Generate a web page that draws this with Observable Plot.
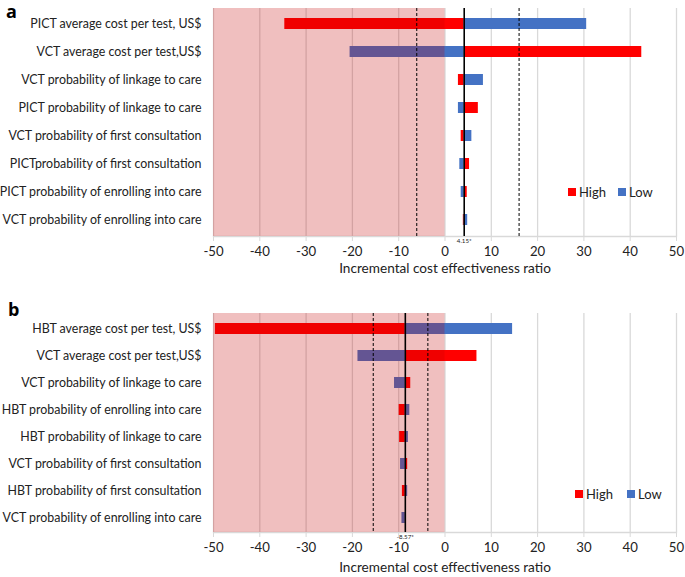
<!DOCTYPE html>
<html>
<head>
<meta charset="utf-8">
<script src="https://cdn.jsdelivr.net/npm/d3@7"></script>
<script src="https://cdn.jsdelivr.net/npm/@observablehq/plot@0.6"></script>
<style>
  body { margin: 0; background: #fff; }
  #wrap { position: relative; width: 685px; height: 577px; font-family: Lato, sans-serif; }
  .panel { position: relative; width: 685px; }
  .plabel { position: absolute; font-weight: bold; font-size: 18px; line-height: 1; color: #000; font-family: "Open Sans", sans-serif; }
  .legend { position: absolute; font-size: 13px; color: #222; display: flex; align-items: center; }
  .sw { display: inline-block; width: 8px; height: 8px; margin-right: 3px; }
</style>
</head>
<body>
<div id="wrap"></div>
<script>
// ---------- data ----------
const xTicks = [-50, -40, -30, -20, -10, 0, 10, 20, 30, 40, 50];
const pinkRange = [-50, 0];
const axisTitle = "Incremental cost effectiveness ratio";

const labelsA = [
  "PICT average cost per test, US$",
  "VCT average cost per test,US$",
  "VCT probability of linkage to care",
  "PICT probability of linkage to care",
  "VCT probability of first consultation",
  "PICTprobability of first consultation",
  "PICT probability of enrolling into care",
  "VCT probability of enrolling into care"
];
const highA = [-34.6, 42.5, 2.9, 7.2, 3.5, 5.3, 4.8, 3.96];
const lowA  = [30.6, -20.5, 8.3, 2.9, 5.8, 3.2, 3.5, 4.9];
const baseA = 4.15;
const dashedA = [-6.1, 16.0];
const noteA = "4.15*";

const labelsB = [
  "HBT average cost per test, US$",
  "VCT average cost per test,US$",
  "VCT probability of linkage to care",
  "HBT probability of enrolling into care",
  "HBT probability of linkage to care",
  "VCT probability of first consultation",
  "HBT probability of first consultation",
  "VCT probability of enrolling into care"
];
const highB = [-49.6, 6.9, -7.4, -9.9, -9.8, -8.06, -9.2, -8.45];
const lowB  = [14.6, -18.8, -10.9, -7.6, -7.9, -9.6, -8.06, -9.3];
const baseB = -8.57;
const dashedB = [-15.5, -3.7];
const noteB = "-8.57*";

const legendItems = [
  {name: "High", color: "#ff0000"},
  {name: "Low", color: "#4472c4"}
];

// ---------- chart ----------
function panel({labels, high, low, base, dashed, note, height, marginTop, marginBottom, titleDy}) {
  const rows = labels.map((l, i) => ({label: l, high: high[i], low: low[i]}));
  return Plot.plot({
    width: 685,
    height,
    marginLeft: 213,
    marginRight: 9,
    marginTop,
    marginBottom,
    style: {fontFamily: "Lato, sans-serif", color: "#222", background: "#fff"},
    x: {domain: [-50, 50]},
    y: {domain: labels, paddingInner: 0.6, paddingOuter: 0.3},
    marks: [
      Plot.ruleX(xTicks, {stroke: "#d9d9d9", strokeWidth: 1.3}),
      Plot.axisX({ticks: xTicks, tickFormat: d => String(d), tickSize: 5, tickPadding: 5, fontSize: 13.2, label: null, stroke: "#d9d9d9"}),
      Plot.axisY({tickSize: 0, tickPadding: 12, fontSize: 12.4, label: null}),
      Plot.frame({anchor: "bottom", stroke: "#d9d9d9", strokeWidth: 1.3}),
      Plot.barX(rows, {y: "label", x1: base, x2: "high", fill: "#ff0000"}),
      Plot.barX(rows, {y: "label", x1: base, x2: "low", fill: "#4472c4"}),
      Plot.rect([{x1: pinkRange[0], x2: pinkRange[1]}], {x1: "x1", x2: "x2", fill: "rgb(195,0,0)", fillOpacity: 0.25}),
      Plot.ruleX([base], {stroke: "#000", strokeWidth: 1.6}),
      Plot.ruleX(dashed, {stroke: "#000", strokeWidth: 1, strokeDasharray: "3,2"}),
      Plot.text([note], {x: base, frameAnchor: "bottom", dy: 6, fontSize: 6.2, fill: "#222"}),
      Plot.text([axisTitle], {frameAnchor: "bottom", dy: titleDy, fontSize: 13.6, fill: "#222"})
    ]
  });
}

const wrap = document.getElementById("wrap");

function addPanel(letter, cfg, letterPos, legendPos) {
  const div = document.createElement("div");
  div.className = "panel";
  div.style.height = cfg.height + "px";
  div.appendChild(panel(cfg));
  const pl = document.createElement("div");
  pl.className = "plabel";
  pl.textContent = letter;
  pl.style.left = letterPos[0] + "px";
  pl.style.top = letterPos[1] + "px";
  div.appendChild(pl);
  legendItems.forEach((it, i) => {
    const lg = document.createElement("div");
    lg.className = "legend";
    lg.style.left = legendPos[i][0] + "px";
    lg.style.top = legendPos[i][1] + "px";
    const sw = document.createElement("span");
    sw.className = "sw";
    sw.style.background = it.color;
    lg.appendChild(sw);
    lg.appendChild(document.createTextNode(it.name));
    div.appendChild(lg);
  });
  wrap.appendChild(div);
}

addPanel("a", {labels: labelsA, high: highA, low: lowA, base: baseA, dashed: dashedA, note: noteA,
  height: 280, marginTop: 8, marginBottom: 44, titleDy: 36}, [6, 2], [[568, 184], [618, 184]]);
addPanel("b", {labels: labelsB, high: highB, low: lowB, base: baseB, dashed: dashedB, note: noteB,
  height: 297, marginTop: 33, marginBottom: 45, titleDy: 39}, [8, 20], [[575, 206], [627, 206]]);
</script>
</body>
</html>
